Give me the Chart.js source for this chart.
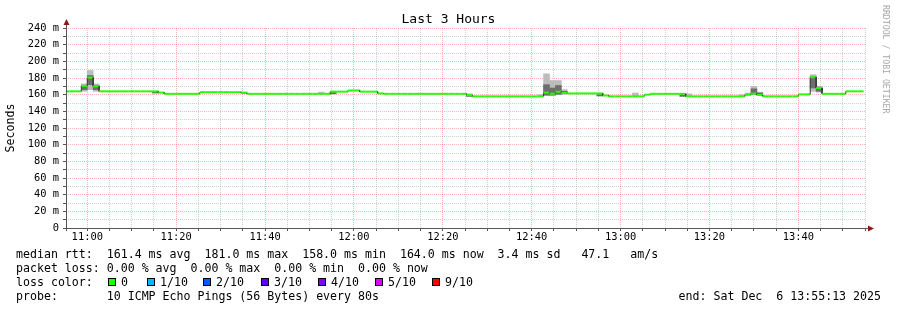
<!DOCTYPE html>
<html>
<head>
<meta charset="utf-8">
<script src="https://cdn.jsdelivr.net/npm/chart.js@4/dist/chart.umd.min.js"></script>
<style>
  body { margin: 0; background: #fff; }
  #wrap { position: relative; width: 897px; height: 310px; font-family: 'DejaVu Sans Mono', monospace; color: #000; }
  #wrap canvas { position: absolute; left: 0; top: 0; }
  .title { position: absolute; left: 0; top: 11px; width: 897px; text-align: center; font-size: 13px; line-height: 16px; }
  .credit { position: absolute; left: 881px; top: 5px; writing-mode: vertical-rl; font-size: 8.2px; line-height: 10px; color: #a8a8a8; white-space: pre; }
  .row { position: absolute; left: 16px; font-size: 11.6px; line-height: 14px; white-space: pre; }
  .row.end { left: auto; right: 16px; }
  .box { position: absolute; top: 3px; width: 8px; height: 8px; border: 1px solid #000; box-sizing: border-box; }
  .lbl { position: absolute; top: 0; }
</style>
</head>
<body>
<div id="wrap">
  <canvas id="myChart" width="897" height="310"></canvas>
  <div class="title">Last 3 Hours</div>
  <div class="credit">RRDTOOL / TOBI OETIKER</div>
  <div class="row" style="top:247px">median rtt:  161.4 ms avg  181.0 ms max  158.0 ms min  164.0 ms now  3.4 ms sd   47.1   am/s</div>
  <div class="row" style="top:261px">packet loss: 0.00 % avg  0.00 % max  0.00 % min  0.00 % now</div>
  <div class="row" id="lossRow" style="top:275px">loss color:</div>
  <div class="row" style="top:289px">probe:       10 ICMP Echo Pings (56 Bytes) every 80s</div>
  <div class="row end" style="top:289px">end: Sat Dec  6 13:55:13 2025</div>
</div>
<script>
//! Time frame (minutes after midnight), 80 s steps.
const firstBinStart = 10 * 60 + 54 + 40 / 60; // 10:54:40
const binMinutes = 80 / 60;
const viewStart = 10 * 60 + 55 + 13 / 60;     // 10:55:13
const viewEnd = 13 * 60 + 55 + 13 / 60;       // 13:55:13

//! Median rtt per 80 s step (ms).
const medianMs = [
  164, 164, 164, 170.5, 180.5, 170,
  164, 164, 164, 164, 164, 164, 164, 164, 164, 164,
  162.5,
  161, 161, 161, 161, 161, 161,
  163, 163, 163, 163, 163, 163, 163,
  162,
  161, 161, 161, 161, 161, 161, 161, 161, 161, 161, 161, 161, 161, 161,
  163.6, 163.6, 163.6, 165, 165, 163.6, 163.6, 163.6,
  161.5,
  161, 161, 161, 161, 161, 161, 161, 161, 161, 161, 161, 161, 161, 161,
  159.5,
  158, 158, 158, 158, 158, 158, 158, 158, 158, 158, 158, 158,
  162.4, 161.2, 163.5, 162,
  161.5, 161.5, 161.5, 161.5, 161.5, 161.5,
  159,
  158, 158, 158, 158, 158, 158,
  160,
  161, 161, 161, 161, 161, 161,
  158, 158, 158, 158, 158, 158, 158, 158, 158, 158,
  160, 161.2, 159.6,
  158, 158, 158, 158, 158, 158,
  160.4, 160.4, 181, 168,
  161, 161, 161, 161,
  164, 164, 164,
];

//! Smoke (spread of the pings) for the steps where it shows (ms).
const smokeBins = [3, 4, 5, 15, 30, 43, 45, 68, 80, 81, 82, 83, 84, 90, 96, 104, 105, 114, 115, 116, 117, 126, 127];
const smokeLo = [164, 166, 164, 162, 161.5, 161, 161, 158, 158, 159, 159, 160, 161, 158.5, 158, 158, 158, 158, 159, 160, 159, 164, 163];
const smokeHi = [173, 189, 173, 164, 163.5, 163, 164, 161, 160, 185, 177, 177, 166, 161.5, 162, 161, 161, 160, 162, 170, 163, 184, 170];
const coreLo = [166, 172, 166, 162, null, null, 161, 158, null, 159.5, 159.5, 160.5, 161, 158.5, null, 158, null, null, null, 160.5, 159.5, 168, 164];
const coreHi = [171, 183, 171, 164, null, null, 163, 159.5, null, 172, 168, 171, 164, 160, null, 160, null, null, null, 167, 162, 182, 169];

//! Loss colour legend.
const lossLabels = ['0', '1/10', '2/10', '3/10', '4/10', '5/10', '9/10'];
const lossColors = ['#26ff00', '#00b8ff', '#0059ff', '#5e00ff', '#7e00ff', '#dd00ff', '#ff0000'];
const lossBoxX = [92, 131, 187, 245, 302, 359, 416];
//! ---------------------------------

const lossRow = document.getElementById('lossRow');
lossLabels.forEach((label, i) => {
  const box = document.createElement('span');
  box.className = 'box';
  box.style.left = lossBoxX[i] + 'px';
  box.style.background = lossColors[i];
  const txt = document.createElement('span');
  txt.className = 'lbl';
  txt.style.left = (lossBoxX[i] + 13) + 'px';
  txt.textContent = label;
  lossRow.append(box, txt);
});

//! Series built from the arrays.
const medianPoints = [];
medianMs.forEach((v, i) => {
  const t0 = firstBinStart + i * binMinutes;
  medianPoints.push({ x: t0, y: v }, { x: t0 + binMinutes, y: v });
});
const binCenter = (b) => firstBinStart + (b + 0.5) * binMinutes;
const smokeOuter = smokeBins.map((b, j) => ({ x: binCenter(b), y: [smokeLo[j], smokeHi[j]] }));
const smokeCore = smokeBins
  .map((b, j) => ({ x: binCenter(b), y: [coreLo[j], coreHi[j]] }))
  .filter((p) => p.y[0] !== null);

const isVertical = (c) => Math.abs(c.p0.parsed.x - c.p1.parsed.x) < 1e-6;
const hhmm = (m) => String(Math.floor(m / 60)).padStart(2, '0') + ':' + String(Math.round(m % 60)).padStart(2, '0');

const MAJOR = 'rgba(255, 0, 0, 0.3)';
const MINOR = 'rgba(140, 140, 140, 0.42)';
const gridColor = (every) => (c) => {
  const v = c.tick ? Math.round(c.tick.value) : NaN;
  return v % every === 0 ? MAJOR : MINOR;
};

//! Axis arrows, rrdtool style.
const axisArrows = {
  id: 'axisArrows',
  afterDraw(chart) {
    const { ctx, chartArea: a } = chart;
    const x0 = Math.round(a.left) + 0.5;
    const y0 = Math.round(a.bottom) + 0.5;
    ctx.save();
    ctx.strokeStyle = '#555';
    ctx.lineWidth = 1;
    ctx.beginPath();
    ctx.moveTo(x0, a.bottom + 3); ctx.lineTo(x0, a.top - 3);
    ctx.moveTo(a.left - 3, y0); ctx.lineTo(a.right + 2, y0);
    ctx.stroke();
    ctx.fillStyle = '#8b1a1a';
    ctx.beginPath();
    ctx.moveTo(x0 - 3, a.top - 3); ctx.lineTo(x0 + 3, a.top - 3); ctx.lineTo(x0, a.top - 9);
    ctx.closePath(); ctx.fill();
    ctx.beginPath();
    ctx.moveTo(a.right + 2, y0 - 3); ctx.lineTo(a.right + 2, y0 + 3); ctx.lineTo(a.right + 8, y0);
    ctx.closePath(); ctx.fill();
    ctx.restore();
  },
};

const ctx = document.getElementById('myChart').getContext('2d');
Chart.defaults.color = '#000';
Chart.defaults.font.family = "'DejaVu Sans Mono', monospace";

const myChart = new Chart(ctx, {
  type: 'bar',
  data: {
    datasets: [
      {
        type: 'line',
        label: 'median',
        data: medianPoints,
        borderColor: '#26ff00',
        borderWidth: 2,
        pointRadius: 0,
        tension: 0,
        order: 0,
        segment: {
          borderColor: (c) => (isVertical(c) ? '#3a3a3a' : '#26ff00'),
          borderWidth: (c) => (isVertical(c) ? 1 : 2),
        },
      },
      {
        label: 'smoke core',
        data: smokeCore,
        backgroundColor: '#6e6e6e',
        borderWidth: 0,
        grouped: false,
        barPercentage: 1,
        categoryPercentage: 1,
        order: 1,
      },
      {
        label: 'smoke',
        data: smokeOuter,
        backgroundColor: '#bcbcbc',
        borderWidth: 0,
        grouped: false,
        barPercentage: 1,
        categoryPercentage: 1,
        order: 2,
      },
    ],
  },
  options: {
    responsive: false,
    animation: false,
    devicePixelRatio: 1,
    layout: { padding: { top: 28, right: 31, bottom: 62, left: 0 } },
    plugins: { legend: { display: false }, tooltip: { enabled: false } },
    scales: {
      x: {
        type: 'linear',
        min: viewStart,
        max: viewEnd,
        offset: false,
        afterFit: (s) => { s.height = 20; },
        afterBuildTicks: (s) => {
          const ticks = [];
          for (let m = Math.ceil(viewStart / 5) * 5; m <= viewEnd; m += 5) ticks.push({ value: m });
          s.ticks = ticks;
        },
        grid: {
          offset: false,
          color: gridColor(20),
          tickColor: '#555',
          tickLength: 3,
        },
        border: { display: false, dash: [1, 1] },
        ticks: {
          autoSkip: false,
          maxRotation: 0,
          padding: 0,
          font: { size: 10.4 },
          callback: (v) => (Math.round(v) % 20 === 0 ? hhmm(v) : ''),
        },
      },
      y: {
        min: 0,
        max: 240,
        afterFit: (s) => { s.width = 66; },
        afterBuildTicks: (s) => {
          const ticks = [];
          for (let v = 0; v <= 240; v += 10) ticks.push({ value: v });
          s.ticks = ticks;
        },
        grid: {
          color: gridColor(20),
          tickColor: '#555',
          tickLength: 3,
        },
        border: { display: false, dash: [1, 1] },
        ticks: {
          autoSkip: false,
          padding: 4,
          font: { size: 10.4 },
          callback: (v) => (v % 20 === 0 ? (v === 0 ? '0' : v + ' m') : ''),
        },
        title: {
          display: true,
          text: 'Seconds',
          font: { size: 11.6 },
          padding: { top: 4, bottom: 0 },
        },
      },
    },
  },
  plugins: [axisArrows],
});
</script>
</body>
</html>
